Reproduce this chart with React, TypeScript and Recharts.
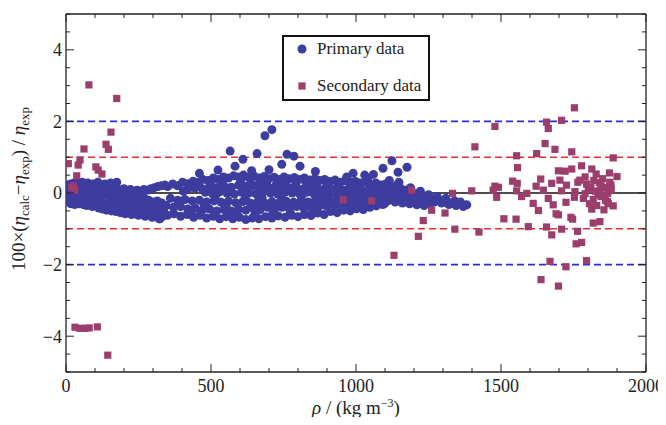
import React from 'react';
import { ScatterChart, Scatter, XAxis, YAxis, ReferenceLine, Label } from 'recharts';

// [rho, deviation] pairs
const primaryLowRho: [number, number][] = [
  [3, 0.1], [4, -0.15], [6, 0.22], [7, -0.05], [9, -0.25], [11, 0.15], [12, 0.02], [14, -0.18], [16, 0.25], [17, -0.3],
  [19, 0.08], [21, -0.1], [23, 0.2], [24, -0.22], [26, 0.0], [28, 0.28], [30, -0.32], [31, 0.12], [33, -0.12], [35, 0.22],
  [37, -0.25], [38, 0.05], [40, 0.3], [42, -0.05], [44, -0.3], [46, 0.18], [48, -0.15], [50, 0.25], [52, 0.02], [54, -0.28],
  [56, 0.3], [58, -0.1], [60, 0.15], [62, -0.33], [64, 0.05], [66, 0.25], [68, -0.2], [70, 0.1], [72, -0.35], [75, 0.28],
  [77, -0.05], [79, 0.15], [81, -0.28], [84, 0.22], [86, -0.15], [88, 0.05], [91, -0.38], [93, 0.25], [95, -0.22], [98, 0.12],
  [100, -0.05], [103, -0.35], [105, 0.2], [108, -0.18], [110, 0.3], [113, -0.42], [115, 0.08], [118, -0.28], [120, 0.22], [123, -0.1],
  [126, -0.45], [128, 0.15], [131, -0.3], [134, 0.25], [137, -0.02], [140, -0.48], [142, 0.18], [145, -0.35], [148, 0.1], [151, -0.2],
  [154, 0.28], [157, -0.5], [160, 0.05], [163, -0.38], [166, 0.2], [169, -0.12], [172, -0.52], [175, 0.3], [178, -0.4], [181, 0.1],
  [184, -0.25], [187, -0.55], [190, 0.08], [194, -0.45], [197, -0.15], [200, 0.12], [204, -0.58], [208, -0.35], [211, 0.05], [215, -0.5],
  [218, -0.2], [222, 0.1], [226, -0.6], [230, -0.42], [233, 0.02], [237, -0.55], [241, -0.25], [245, 0.08], [249, -0.62], [253, -0.45],
  [257, 0.05], [261, -0.58], [265, -0.3], [269, 0.1], [273, -0.65], [277, -0.5], [281, 0.08], [285, -0.6], [289, -0.38], [293, 0.12],
  [297, -0.68], [301, -0.52], [305, 0.15], [309, -0.62], [313, -0.4], [317, 0.18], [321, -0.72], [325, -0.55], [329, 0.2], [333, -0.65],
  [337, -0.45], [341, 0.22],
  [152, -0.4], [162, -0.3], [176, -0.45], [186, -0.35], [196, -0.5], [206, -0.45], [216, -0.55], [228, -0.52], [238, -0.45], [248, -0.5],
  [258, -0.55], [268, -0.45], [278, -0.55], [288, -0.5], [298, -0.6], [308, -0.5], [318, -0.58], [328, -0.6], [338, -0.55],
  [150, -0.1], [165, -0.05], [180, -0.15], [195, -0.08], [210, -0.12], [225, -0.15], [240, -0.1], [255, -0.18], [270, -0.15],
  [285, -0.2], [300, -0.25], [315, -0.22], [330, -0.28],
];

const primaryUpper: [number, number][] = [
  [350, 0.18], [368, 0.25], [385, 0.2], [402, 0.3], [420, 0.26], [438, 0.33], [455, 0.3], [472, 0.38], [490, 0.35], [508, 0.42],
  [525, 0.38], [543, 0.45], [560, 0.42], [578, 0.48], [595, 0.45], [612, 0.5], [630, 0.44], [648, 0.48], [665, 0.42], [683, 0.46],
  [700, 0.4], [718, 0.44], [735, 0.38], [752, 0.45], [770, 0.4], [788, 0.43], [805, 0.38], [822, 0.42], [840, 0.36], [858, 0.4],
  [875, 0.35], [892, 0.38], [910, 0.32], [928, 0.36], [945, 0.3], [962, 0.34], [980, 0.3], [998, 0.32], [1015, 0.28], [1032, 0.3],
  [1050, 0.25], [1068, 0.28], [1085, 0.22], [1102, 0.25], [1120, 0.18], [1138, 0.2], [1155, 0.12], [1172, 0.08], [1190, 0.02], [1208, -0.02],
  [1225, -0.08], [1242, -0.12], [1260, -0.16], [1278, -0.2], [1295, -0.22], [1312, -0.26], [1330, -0.28], [1348, -0.3], [1365, -0.32], [1382, -0.33],
];

const primaryMid: [number, number][] = [
  [420, 0.1], [445, 0.14], [470, 0.12], [495, 0.18], [520, 0.15], [545, 0.2], [570, 0.16], [595, 0.22], [620, 0.18], [645, 0.2],
  [670, 0.15], [695, 0.2], [720, 0.16], [745, 0.18], [770, 0.14], [795, 0.17], [820, 0.12], [845, 0.15], [870, 0.12], [895, 0.14],
  [920, 0.1], [945, 0.13], [970, 0.1], [995, 0.12], [1020, 0.08], [1045, 0.1], [1070, 0.05], [1095, 0.08], [1120, 0.02], [1145, 0.0],
  [1170, -0.05], [1195, -0.1], [1220, -0.15], [1245, -0.2], [1270, -0.25], [1295, -0.28], [1320, -0.32], [1345, -0.35], [1370, -0.38],
  [480, 0.02], [505, -0.02], [530, 0.03], [555, 0.0], [580, -0.03], [605, 0.02], [630, 0.0], [655, -0.02], [680, 0.03], [705, 0.0],
  [730, -0.03], [755, 0.02], [780, 0.0], [805, -0.02], [830, 0.02], [855, -0.03], [880, 0.0], [905, -0.04], [930, -0.02], [955, -0.05],
  [980, -0.03], [1005, -0.06], [1030, -0.04], [1055, -0.08], [1080, -0.06], [1105, -0.1], [1130, -0.12], [1155, -0.15], [1180, -0.18],
  [1205, -0.22], [1230, -0.26], [1255, -0.3],
];

const primaryLower: [number, number][] = [
  [360, -0.15], [385, -0.2], [410, -0.18], [435, -0.22], [460, -0.2], [485, -0.25], [510, -0.22], [535, -0.26], [560, -0.23], [585, -0.27],
  [610, -0.24], [635, -0.28], [660, -0.25], [685, -0.28], [710, -0.24], [735, -0.27], [760, -0.23], [785, -0.26], [810, -0.22], [835, -0.25],
  [860, -0.21], [885, -0.24], [910, -0.2], [935, -0.23], [960, -0.2], [985, -0.22], [1010, -0.18], [1035, -0.2], [1060, -0.17], [1085, -0.2],
  [1110, -0.22], [1135, -0.25], [1160, -0.28], [1185, -0.3], [1210, -0.33], [1235, -0.35],
  [345, -0.35], [370, -0.4], [395, -0.38], [420, -0.45], [445, -0.42], [470, -0.48], [495, -0.45], [520, -0.5], [545, -0.46], [570, -0.5],
  [595, -0.45], [620, -0.48], [645, -0.42], [670, -0.46], [695, -0.4], [720, -0.44], [745, -0.4], [770, -0.43], [795, -0.38], [820, -0.42],
  [845, -0.38], [870, -0.4], [895, -0.35], [920, -0.38], [945, -0.33], [970, -0.36], [995, -0.3], [1020, -0.33], [1045, -0.28], [1070, -0.3],
  [350, -0.62], [372, -0.58], [395, -0.65], [418, -0.6], [440, -0.68], [462, -0.62], [485, -0.7], [508, -0.65], [530, -0.72], [552, -0.66],
  [575, -0.72], [598, -0.68], [620, -0.74], [642, -0.7], [665, -0.72], [688, -0.66], [710, -0.7], [732, -0.64], [755, -0.68], [778, -0.62],
  [800, -0.66], [822, -0.6], [845, -0.63], [868, -0.56], [890, -0.6], [912, -0.52], [935, -0.55], [958, -0.48], [980, -0.5], [1002, -0.44],
  [1025, -0.46], [1048, -0.4], [1070, -0.36], [1092, -0.32],
];

// loose points sitting between the bands
const primaryScatter: [number, number][] = [
  [405, 0.05], [432, -0.55], [458, 0.22], [476, -0.32], [498, 0.28], [515, -0.1], [538, 0.32], [552, -0.38], [568, 0.08], [589, -0.58],
  [603, 0.35], [618, -0.15], [637, 0.28], [652, -0.55], [668, 0.32], [676, -0.12], [692, 0.3], [712, -0.6], [726, 0.26], [741, -0.08],
  [758, 0.3], [773, -0.55], [792, 0.28], [812, -0.1], [828, 0.3], [848, -0.52], [862, 0.25], [882, -0.12], [901, 0.24], [918, -0.48],
  [938, 0.22], [952, -0.12], [968, 0.45], [988, -0.42], [1008, 0.18], [1022, -0.1], [1040, 0.4], [1058, -0.3], [1075, 0.15], [1098, -0.3],
  [1115, 0.35], [1128, -0.05], [1148, 0.3], [1165, -0.2], [1188, 0.15], [1200, -0.25], [1222, 0.05], [1250, -0.05], [1280, -0.1], [1310, -0.15],
  [1340, -0.22], [1360, -0.25],
];

const primaryOutliers: [number, number][] = [
  [566, 1.17], [610, 0.94], [659, 1.1], [686, 1.6], [710, 1.77], [762, 1.08], [786, 1.03], [744, 0.8], [807, 0.75], [583, 0.75],
  [524, 0.64], [1093, 0.69], [1124, 0.9], [1145, 0.58], [1176, 0.72], [990, 0.55], [1030, 0.5], [1060, 0.52], [460, 0.55], [640, 0.62],
  [700, 0.65], [860, 0.6], [324, -0.72],
];

const secondaryLowRho: [number, number][] = [
  [79, 3.02], [175, 2.64], [155, 1.7], [138, 1.36], [146, 1.22], [62, 1.23], [48, 0.92], [42, 0.78], [8, 0.82], [103, 0.73],
  [111, 0.64], [124, 0.53], [37, 0.48], [25, 0.2], [30, 0.08], [20, 0.15],
  [31, -3.75], [48, -3.78], [66, -3.78], [80, -3.77], [108, -3.74], [144, -4.53],
];

const secondaryMidRho: [number, number][] = [
  [956, -0.19], [1054, -0.22], [1131, -1.74], [1192, 0.08], [1215, -1.21], [1232, -0.77], [1261, -0.48], [1307, -0.56], [1333, -0.01],
  [1341, -1.01], [1399, 0.06], [1410, 1.29], [1424, -1.09],
];

const secondaryHighRho: [number, number][] = [
  [1479, 1.86], [1657, 1.98], [1663, 1.8], [1709, 2.03], [1753, 2.38], [1652, 1.38], [1686, 1.22], [1623, 1.1], [1744, 1.15], [1554, 1.04],
  [1557, 0.71], [1887, 0.98], [1778, 0.76], [1698, 0.62], [1721, 0.61], [1744, 0.67], [1813, 0.67], [1828, 0.53], [1874, 0.56], [1900, 0.46],
  [1637, 0.39], [1703, 0.36], [1772, 0.36], [1540, 0.33], [1556, 0.27], [1621, 0.19], [1675, 0.27], [1726, 0.22], [1795, 0.25], [1839, 0.29],
  [1879, 0.22], [1479, 0.19], [1491, 0.16], [1473, 0.08], [1554, 0.06], [1589, -0.01], [1646, 0.08], [1709, 0.06], [1755, 0.04], [1801, 0.1],
  [1841, 0.06], [1868, -0.01], [1571, -0.1], [1485, -0.12], [1663, -0.15], [1753, -0.12], [1784, -0.15], [1818, -0.18], [1845, -0.1], [1867, -0.24],
  [1724, -0.26], [1611, -0.29], [1680, -0.33], [1887, -0.36], [1813, -0.45], [1855, -0.47], [1629, -0.49], [1690, -0.58], [1698, -0.61], [1741, -0.68],
  [1747, -0.73], [1818, -0.84], [1841, -0.8], [1510, -0.72], [1552, -0.73], [1594, -0.94], [1657, -0.95], [1709, -1.01], [1764, -1.07], [1675, -1.17],
  [1759, -1.42], [1778, -1.38], [1669, -1.91], [1724, -2.06], [1795, -1.89], [1638, -2.42], [1698, -2.6],
  [1820, 0.35], [1850, 0.4], [1860, 0.15], [1835, -0.05], [1875, 0.3], [1805, -0.3], [1790, 0.45], [1830, -0.35], [1860, -0.2], [1880, 0.1],
  [1845, 0.2], [1810, 0.15], [1870, -0.3], [1826, 0.05], [1852, -0.08], [1790, -0.02], [1765, 0.3],
];

const xTicks = [0, 100, 200, 300, 400, 500, 600, 700, 800, 900, 1000, 1100, 1200, 1300, 1400, 1500, 1600, 1700, 1800, 1900, 2000];
const yTicks = [-5, -4.5, -4, -3.5, -3, -2.5, -2, -1.5, -1, -0.5, 0, 0.5, 1, 1.5, 2, 2.5, 3, 3.5, 4, 4.5, 5];

const toPoints = (rows: [number, number][]) => rows.map(([rho, dev]) => ({ rho, dev }));

const primaryData = toPoints([
  ...primaryLowRho,
  ...primaryUpper,
  ...primaryMid,
  ...primaryLower,
  ...primaryScatter,
  ...primaryOutliers,
]);
const secondaryData = toPoints([...secondaryLowRho, ...secondaryMidRho, ...secondaryHighRho]);

const PRIMARY = '#3d3d9f';
const SECONDARY = '#9b3e6c';
const INK = '#222';
const serif = '"Liberation Serif", "Times New Roman", serif';
const textStyle = { fontFamily: serif, fontSize: 18, fill: INK };

const fmt = (v: number) => (v < 0 ? '\u2212' + Math.abs(v) : String(v));

const BottomTick = (p: any) => {
  const major = p.payload.value % 500 === 0;
  return (
    <g>
      <line x1={p.x} x2={p.x} y1={p.y} y2={p.y - (major ? 8 : 4)} stroke={INK} />
      {major && (
        <text x={p.x} y={p.y + 20} textAnchor="middle" style={textStyle}>
          {p.payload.value}
        </text>
      )}
    </g>
  );
};

const TopTick = (p: any) => {
  const major = p.payload.value % 500 === 0;
  return <line x1={p.x} x2={p.x} y1={p.y} y2={p.y + (major ? 8 : 4)} stroke={INK} />;
};

const LeftTick = (p: any) => {
  const major = p.payload.value % 2 === 0;
  const showLabel = major && Math.abs(p.payload.value) < 5;
  return (
    <g>
      <line x1={p.x} x2={p.x + (major ? 8 : 4)} y1={p.y} y2={p.y} stroke={INK} />
      {showLabel && (
        <text x={p.x - 4} y={p.y} dy="0.35em" textAnchor="end" style={textStyle}>
          {fmt(p.payload.value)}
        </text>
      )}
    </g>
  );
};

const RightTick = (p: any) => {
  const major = p.payload.value % 2 === 0;
  return <line x1={p.x} x2={p.x - (major ? 8 : 4)} y1={p.y} y2={p.y} stroke={INK} />;
};

const Dot = (p: any) => <circle cx={p.cx} cy={p.cy} r={4.5} fill={PRIMARY} />;
const Square = (p: any) => <rect x={p.cx - 3.6} y={p.cy - 3.6} width={7.2} height={7.2} fill={SECONDARY} />;

const YTitle = (p: any) => {
  const vb = p.viewBox;
  const cx = 17;
  const cy = vb.y + vb.height / 2 - 4;
  return (
    <text
      transform={`rotate(-90 ${cx} ${cy})`}
      x={cx}
      y={cy}
      textAnchor="middle"
      style={{ fontFamily: serif, fontSize: 19, fill: INK }}
    >
      <tspan>100×(</tspan>
      <tspan style={{ fontStyle: 'italic' }}>η</tspan>
      <tspan style={{ fontSize: 13 }} dy={4}>calc</tspan>
      <tspan dy={-4}>−</tspan>
      <tspan style={{ fontStyle: 'italic' }}>η</tspan>
      <tspan style={{ fontSize: 13 }} dy={4}>exp</tspan>
      <tspan dy={-4}>) / </tspan>
      <tspan style={{ fontStyle: 'italic' }}>η</tspan>
      <tspan style={{ fontSize: 13 }} dy={4}>exp</tspan>
    </text>
  );
};

const XTitle = (p: any) => {
  const vb = p.viewBox;
  const cx = vb.x + vb.width / 2;
  return (
    <text x={cx} y={vb.y + 42} textAnchor="middle" style={{ fontFamily: serif, fontSize: 19, fill: INK }}>
      <tspan style={{ fontStyle: 'italic' }}>ρ</tspan>
      <tspan> / (kg m</tspan>
      <tspan style={{ fontSize: 12 }} dy={-7}>−3</tspan>
      <tspan dy={7}>)</tspan>
    </text>
  );
};

const LegendBox = () => (
  <div
    style={{
      position: 'absolute',
      left: 274,
      top: 27,
      width: 144,
      height: 62,
      border: '2px solid #111',
      background: '#fff',
      fontFamily: serif,
      fontSize: 17,
      color: INK,
    }}
  >
    <div style={{ position: 'absolute', left: 12, top: 2, display: 'flex', alignItems: 'center', whiteSpace: 'nowrap' }}>
      <svg width={12} height={12} style={{ marginRight: 9 }}>
        <circle cx={6} cy={6} r={4.5} fill={PRIMARY} />
      </svg>
      <span>Primary data</span>
    </div>
    <div style={{ position: 'absolute', left: 12, top: 39, display: 'flex', alignItems: 'center', whiteSpace: 'nowrap' }}>
      <svg width={12} height={12} style={{ marginRight: 9 }}>
        <rect x={2.4} y={2.4} width={7.2} height={7.2} fill={SECONDARY} />
      </svg>
      <span>Secondary data</span>
    </div>
  </div>
);

export default function App() {
  return (
    <div style={{ position: 'relative', width: 658, height: 417, marginBottom: -8 }}>
      <ScatterChart width={658} height={417} margin={{ top: 0, right: 0, bottom: 0, left: 0 }} style={{ overflow: 'visible' }}>
        <XAxis
          xAxisId="b"
          type="number"
          dataKey="rho"
          domain={[0, 2000]}
          ticks={xTicks}
          interval={0}
          height={53}
          tickSize={0}
          tickMargin={0}
          tickLine={false}
          tick={BottomTick}
          axisLine={{ stroke: INK, strokeWidth: 1.3 }}
          allowDataOverflow
        >
          <Label content={XTitle} />
        </XAxis>
        <XAxis
          xAxisId="t"
          orientation="top"
          type="number"
          dataKey="rho"
          domain={[0, 2000]}
          ticks={xTicks}
          interval={0}
          height={6}
          tickSize={0}
          tickMargin={0}
          tickLine={false}
          tick={TopTick}
          axisLine={{ stroke: INK, strokeWidth: 1.3 }}
          allowDataOverflow
        />
        <YAxis
          yAxisId="l"
          type="number"
          dataKey="dev"
          domain={[-5, 5]}
          ticks={yTicks}
          interval={0}
          width={58}
          tickSize={0}
          tickMargin={0}
          tickLine={false}
          tick={LeftTick}
          axisLine={{ stroke: INK, strokeWidth: 1.3 }}
          allowDataOverflow
        >
          <Label content={YTitle} />
        </YAxis>
        <YAxis
          yAxisId="r"
          orientation="right"
          type="number"
          dataKey="dev"
          domain={[-5, 5]}
          ticks={yTicks}
          interval={0}
          width={20}
          tickSize={0}
          tickMargin={0}
          tickLine={false}
          tick={RightTick}
          axisLine={{ stroke: INK, strokeWidth: 1.3 }}
          allowDataOverflow
        />
        <Scatter
          name="Primary data"
          data={primaryData}
          xAxisId="b"
          yAxisId="l"
          shape={Dot}
          isAnimationActive={false}
        />
        <Scatter
          name="Secondary data"
          data={secondaryData}
          xAxisId="b"
          yAxisId="l"
          shape={Square}
          isAnimationActive={false}
        />
        <ReferenceLine xAxisId="b" yAxisId="l" y={2} stroke="#2b2bdb" strokeWidth={1.6} strokeDasharray="7 4" />
        <ReferenceLine xAxisId="b" yAxisId="l" y={1} stroke="#e23030" strokeWidth={1.6} strokeDasharray="7 4" />
        <ReferenceLine xAxisId="b" yAxisId="l" y={0} stroke="#111" strokeWidth={1.6} />
        <ReferenceLine xAxisId="b" yAxisId="l" y={-1} stroke="#e23030" strokeWidth={1.6} strokeDasharray="7 4" />
        <ReferenceLine xAxisId="b" yAxisId="l" y={-2} stroke="#2b2bdb" strokeWidth={1.6} strokeDasharray="7 4" />
      </ScatterChart>
      <LegendBox />
    </div>
  );
}
